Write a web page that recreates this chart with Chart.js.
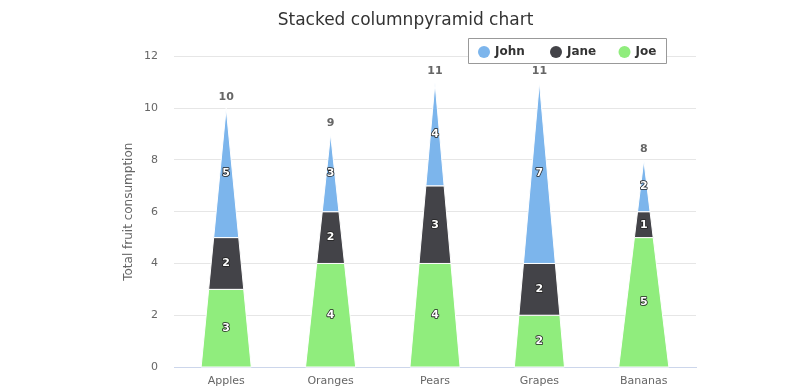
<!DOCTYPE html>
<html>
<head>
<meta charset="utf-8">
<script src="https://cdn.jsdelivr.net/npm/chart.js@4/dist/chart.umd.min.js"></script>
<style>
  html, body { margin: 0; padding: 0; background: #fff; }
</style>
</head>
<body>
<canvas id="chart" width="805" height="386"></canvas>
<script>
const categories = ['Apples', 'Oranges', 'Pears', 'Grapes', 'Bananas'];
const john = [5, 3, 4, 7, 2];
const jane = [2, 2, 3, 2, 1];
const joe = [3, 4, 4, 2, 5];
const seriesNames = ['John', 'Jane', 'Joe'];
const seriesColors = ['#7cb5ec', '#434348', '#90ed7d'];

const FONT = '"Lucida Sans Unicode", "DejaVu Sans", sans-serif';
Chart.defaults.font.family = FONT;

// stacking goes bottom-up: Joe, Jane, John
const stackOrder = [2, 1, 0];

const pyramidPlugin = {
  id: 'pyramid',
  beforeDatasetsDraw(chart) {
    const ctx = chart.ctx;
    const y = chart.scales.y;
    const sets = chart.data.datasets;
    const meta = chart.getDatasetMeta(0);
    ctx.save();
    categories.forEach((cat, i) => {
      const total = stackOrder.reduce((s, k) => s + sets[k].data[i], 0);
      const bar = meta.data[i];
      const cx = bar.x;
      const hw = bar.width / 2;
      const half = (v) => hw * (1 - v / total);
      let acc = 0;
      stackOrder.forEach((k) => {
        const a = acc;
        const b = acc + sets[k].data[i];
        const ya = y.getPixelForValue(a);
        const yb = y.getPixelForValue(b);
        ctx.beginPath();
        ctx.moveTo(cx - half(a), ya);
        ctx.lineTo(cx + half(a), ya);
        ctx.lineTo(cx + half(b), yb);
        ctx.lineTo(cx - half(b), yb);
        ctx.closePath();
        ctx.fillStyle = sets[k].backgroundColor;
        ctx.fill();
        ctx.strokeStyle = '#ffffff';
        ctx.lineWidth = 1;
        ctx.stroke();
        acc = b;
      });
    });
    ctx.restore();
    return false;
  },
  afterDraw(chart) {
    const ctx = chart.ctx;
    const y = chart.scales.y;
    const sets = chart.data.datasets;
    const meta = chart.getDatasetMeta(0);
    ctx.save();
    ctx.textAlign = 'center';
    ctx.textBaseline = 'middle';
    ctx.lineJoin = 'round';
    categories.forEach((cat, i) => {
      const cx = meta.data[i].x;
      let acc = 0;
      stackOrder.forEach((k) => {
        const v = sets[k].data[i];
        const ym = y.getPixelForValue(acc + v / 2);
        ctx.font = 'bold 11px ' + FONT;
        ctx.lineWidth = 1.6;
        ctx.strokeStyle = '#222222';
        ctx.strokeText(String(v), cx, ym);
        ctx.fillStyle = '#ffffff';
        ctx.fillText(String(v), cx, ym);
        acc += v;
      });
      // stack total
      const yt = y.getPixelForValue(acc) - 11;
      ctx.font = 'bold 11px ' + FONT;
      ctx.lineWidth = 2;
      ctx.strokeStyle = '#ffffff';
      ctx.strokeText(String(acc), cx, yt);
      ctx.fillStyle = '#666666';
      ctx.fillText(String(acc), cx, yt);
    });

    // legend box
    const bx = 468.5, by = 38.5, bw = 198, bh = 25;
    const circleX = [484, 556, 624.5];
    ctx.fillStyle = '#ffffff';
    ctx.fillRect(bx, by, bw, bh);
    ctx.strokeStyle = '#999999';
    ctx.lineWidth = 1;
    ctx.strokeRect(bx, by, bw, bh);
    ctx.textAlign = 'left';
    ctx.font = 'bold 12px ' + FONT;
    seriesNames.forEach((name, k) => {
      ctx.beginPath();
      ctx.arc(circleX[k], by + 13.5, 6, 0, Math.PI * 2);
      ctx.fillStyle = seriesColors[k];
      ctx.fill();
      ctx.fillStyle = '#333333';
      ctx.fillText(name, circleX[k] + 11, by + 13.5);
    });
    ctx.restore();
  }
};

new Chart(document.getElementById('chart').getContext('2d'), {
  type: 'bar',
  data: {
    labels: categories,
    datasets: [
      { label: seriesNames[0], data: john, backgroundColor: seriesColors[0] },
      { label: seriesNames[1], data: jane, backgroundColor: seriesColors[1] },
      { label: seriesNames[2], data: joe, backgroundColor: seriesColors[2] },
    ],
  },
  options: {
    responsive: false,
    animation: false,
    devicePixelRatio: 1,
    barPercentage: 0.48,
    categoryPercentage: 1,
    layout: { padding: { left: 115, right: 109, top: 0, bottom: 0 } },
    plugins: {
      legend: { display: false },
      tooltip: { enabled: false },
      title: {
        display: true,
        text: 'Stacked columnpyramid chart',
        color: '#333333',
        font: { size: 17, weight: 'normal' },
        padding: { top: 10, bottom: 26 },
      },
    },
    scales: {
      x: {
        stacked: true,
        grid: { display: false, drawTicks: false },
        border: { color: '#ccd6eb' },
        ticks: { color: '#666666', font: { size: 11 }, padding: 8 },
        afterFit(s) { s.height = 19; },
      },
      y: {
        stacked: true,
        min: 0,
        max: 12,
        ticks: { stepSize: 2, color: '#666666', font: { size: 11 }, padding: 0 },
        grid: { color: '#e6e6e6', drawTicks: true, tickLength: 16, tickColor: 'rgba(0,0,0,0)' },
        border: { display: false },
        title: {
          display: true,
          text: 'Total fruit consumption',
          color: '#666666',
          font: { size: 12 },
          padding: { top: 7, bottom: 0 },
        },
        afterFit(s) { s.width = 59; },
      },
    },
  },
  plugins: [pyramidPlugin],
});
</script>
</body>
</html>
